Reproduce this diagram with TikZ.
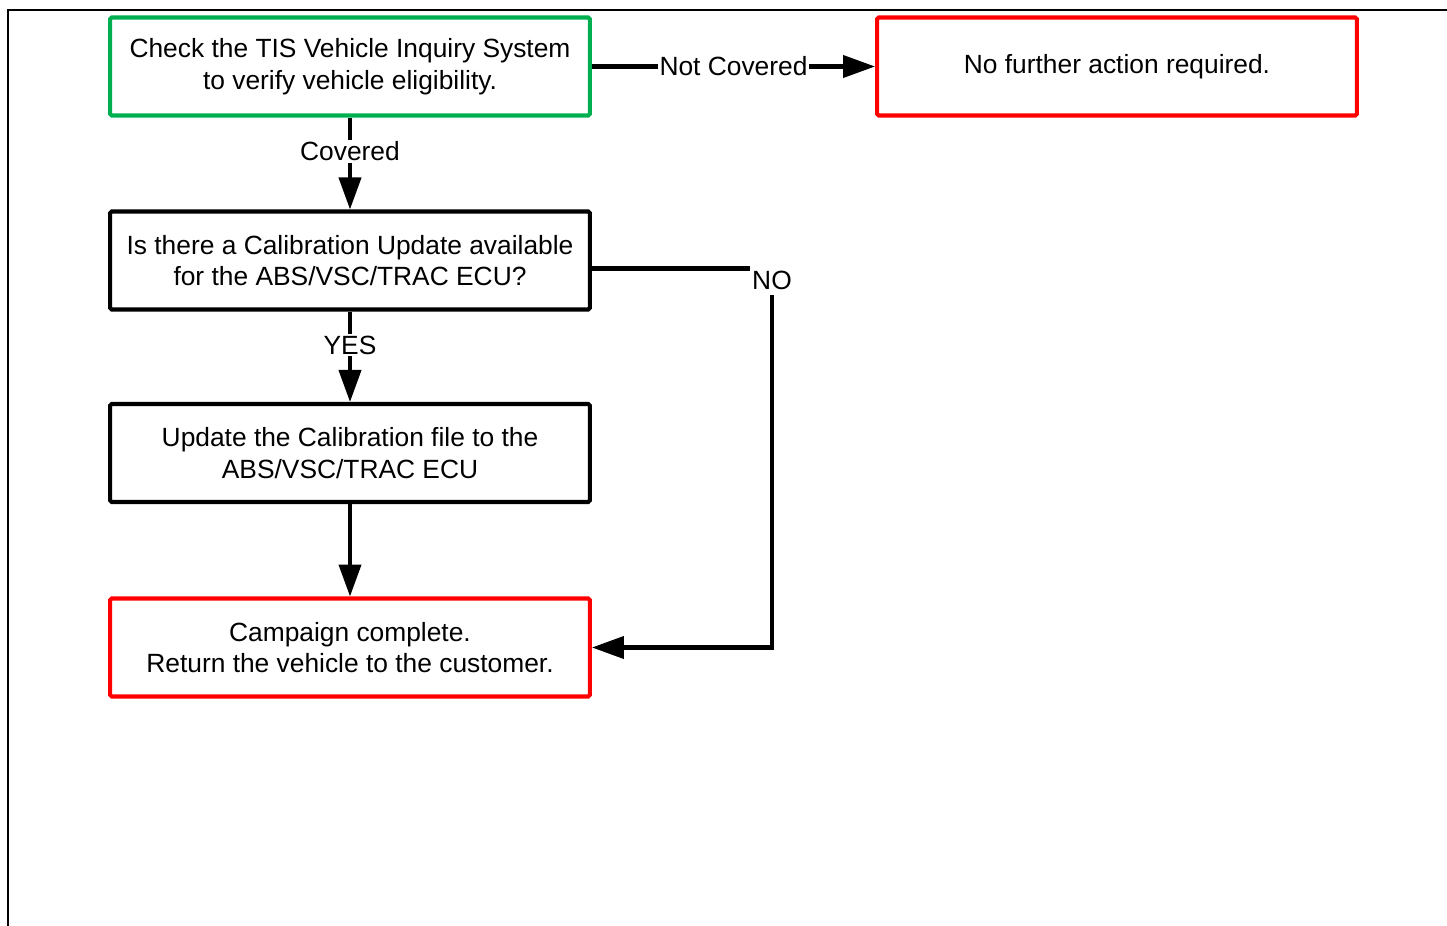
\documentclass[tikz,border=0pt]{standalone}
\usepackage{fontspec}
\setmainfont{Liberation Sans}
\usetikzlibrary{arrows.meta,positioning}
\definecolor{verdeOK}{RGB}{0,176,80}
\definecolor{rojoFin}{RGB}{255,0,0}

\begin{document}
\begin{tikzpicture}[
  x=0.02cm, y=-0.02cm,
  every node/.style = {align=center, font=\fontsize{15}{18}\selectfont},
  paso/.style  = {rectangle, rounded corners=1pt, line width=2.3pt,
                  minimum width=9.6cm, minimum height=1.96cm, draw=black},
  pasoV/.style = {paso, draw=verdeOK},
  pasoR/.style = {paso, draw=rojoFin},
  arr/.style   = {-{Triangle[length=0.64cm,width=0.44cm]}, line width=2.3pt},
  lin/.style   = {line width=2.3pt},
  lbl/.style   = {fill=white, inner sep=1pt},
]
\useasboundingbox (0,0) rectangle (1447,926);
% ── Marco ────────────────────────────────────────────────────
\draw[line width=1.6pt] (8,926) -- (8,10) -- (1447,10);

% ── Nodos ────────────────────────────────────────────────────
\node[pasoV] (check)  at (350,66.5)  {Check the TIS Vehicle Inquiry System\\to verify vehicle eligibility.};
\node[pasoR] (nofur)  at (1117,66.5) {No further action required.};
\node[paso]  (calib)  at (350,260.5) {Is there a Calibration Update available\\for the ABS/VSC/TRAC ECU?};
\node[paso]  (update) at (350,453)   {Update the Calibration file to the\\ABS/VSC/TRAC ECU};
\node[pasoR] (done)   at (350,647.5) {Campaign complete.\\Return the vehicle to the customer.};
\node[inner sep=1pt] (no) at (772,280) {NO};

% ── Flechas ──────────────────────────────────────────────────
\draw[arr] (check) -- node[lbl]{Not Covered} (nofur);
\draw[arr] (check) -- node[lbl,pos=0.37]{Covered} (calib);
\draw[arr] (calib) -- node[lbl,pos=0.37]{YES} (update);
\draw[arr] (update) -- (done);
\draw[lin] ([yshift=-0.16cm]calib.east) -- ([yshift=-0.16cm]calib.east -| no.west);
\draw[arr] (no.south) ++(0,4) |- (done.east);

\end{tikzpicture}
\end{document}
